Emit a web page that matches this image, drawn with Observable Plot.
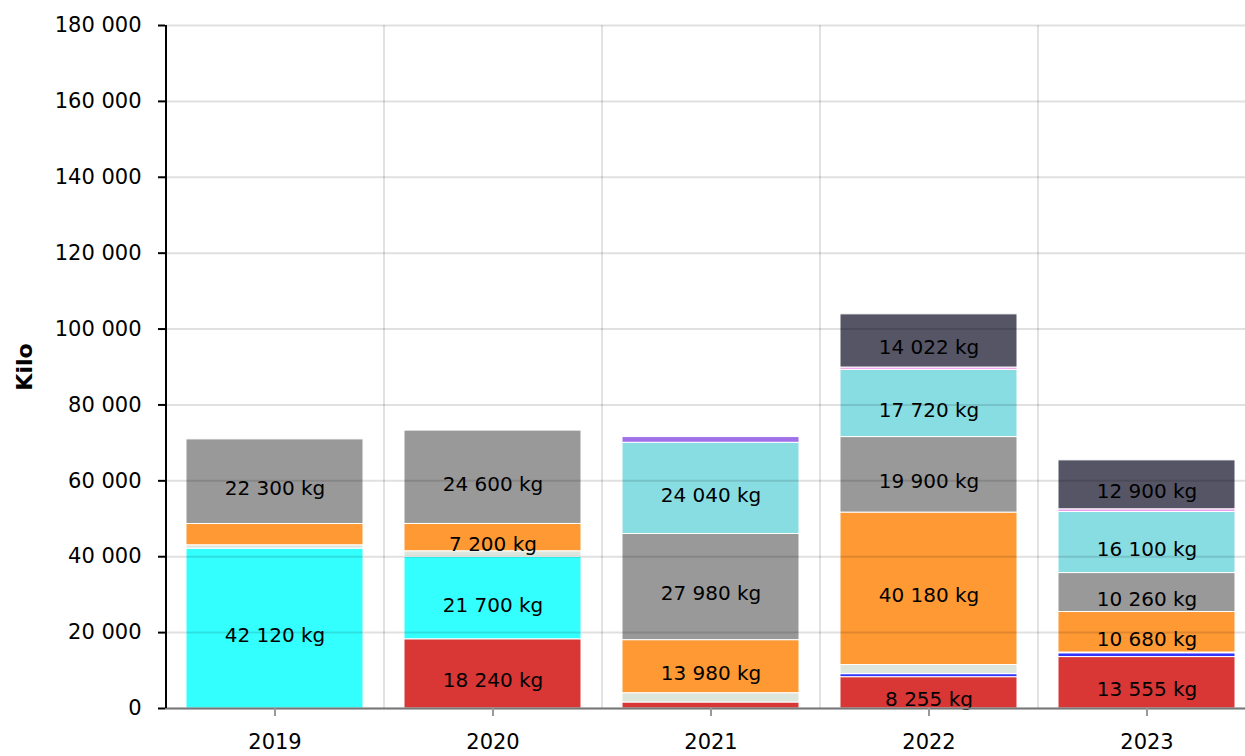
<!DOCTYPE html>
<html>
<head>
<meta charset="utf-8">
<script src="https://cdn.jsdelivr.net/npm/d3@7"></script>
<script src="https://cdn.jsdelivr.net/npm/@observablehq/plot@0.6"></script>
<style>
  html, body { margin: 0; padding: 0; background: #fff; overflow: hidden; }
  #chart svg { display: block; max-width: none !important; }
</style>
</head>
<body>
<div id="chart"></div>
<script>
// Categories
const years = ["2019", "2020", "2021", "2022", "2023"];
// Series (stack order bottom -> top)
const seriesNames = ["Rød", "Blå", "Turkis", "Lys", "Oransje", "Grå", "Lyseblå", "Lilla", "Rosa", "Mørk"];
const seriesColors = ["#d93636", "#3333ff", "#33ffff", "#dce6dc", "#ff9933", "#999999", "#88dde3", "#a070e8", "#ee99ee", "#555566"];
// Values in kg, per series, per year
const red       = [0, 18240, 1580, 8255, 13555];
const blue      = [0, 0, 0, 800, 1000];
const turquoise = [42120, 21700, 0, 0, 0];
const light     = [900, 1500, 2450, 2400, 200];
const orange    = [5600, 7200, 13980, 40180, 10680];
const gray      = [22300, 24600, 27980, 19900, 10260];
const lightBlue = [0, 0, 24040, 17720, 16100];
const purple    = [0, 0, 1500, 0, 0];
const pink      = [0, 0, 0, 600, 700];
const dark      = [0, 0, 0, 14022, 12900];
const yTicks = [0, 20000, 40000, 60000, 80000, 100000, 120000, 140000, 160000, 180000];
const yLabel = "Kilo";

const seriesValues = [red, blue, turquoise, light, orange, gray, lightBlue, purple, pink, dark];
const data = [];
years.forEach((yr, i) => {
  seriesNames.forEach((s, j) => {
    const v = seriesValues[j][i];
    if (v > 0) data.push({year: yr, series: s, value: v});
  });
});

const loc = d3.formatLocale({decimal: ",", thousands: " ", grouping: [3], currency: ["", ""]});
const fmt = loc.format(",d");

const W = 1255, H = 756, ML = 165, MR = 0, MT = 25, MB = 48;
const step = (W - ML - MR) / years.length;
const font = "DejaVu Sans, Verdana, sans-serif";

const chart = Plot.plot({
  width: W,
  height: H,
  marginLeft: ML,
  marginRight: MR,
  marginTop: MT,
  marginBottom: MB,
  style: {fontFamily: font, fontSize: "20px", color: "#000", background: "#fff"},
  x: {domain: years, paddingInner: 0.19, paddingOuter: 0.095, label: null},
  y: {domain: [0, 180000], label: null},
  color: {domain: seriesNames, range: seriesColors},
  marks: [
    // vertical band boundaries
    Plot.ruleX(years.slice(1), {x: d => d, dx: -step / 2, stroke: "#e2e2e2", strokeWidth: 2}),
    Plot.barY(data, {x: "year", y: "value", fill: "series", stroke: "white", strokeWidth: 1}),
    Plot.gridY(yTicks, {stroke: "#000", strokeOpacity: 0.12, strokeWidth: 2}),
    Plot.text(data, Plot.stackY({
      x: "year", y: "value",
      text: d => d.value >= 7000 ? fmt(d.value) + " kg" : "",
      fill: "#000", fontSize: 20, dy: 7
    })),
    Plot.ruleY([0], {stroke: "#777", strokeWidth: 2}),
    Plot.ruleX([years[0]], {x: d => d, dx: -step / 2, stroke: "#000", strokeWidth: 2}),
    Plot.axisY(yTicks, {tickSize: 7, tickPadding: 17, tickFormat: fmt, fontSize: 21, stroke: "#000", strokeWidth: 2}),
    Plot.axisX({tickSize: 8, tickPadding: 18, fontSize: 21, stroke: "#999", strokeWidth: 2}),
    Plot.text([yLabel], {frameAnchor: "left", dx: -141, rotate: -90, textAnchor: "middle", lineAnchor: "middle", fontWeight: "bold", fontSize: 22})
  ]
});

document.getElementById("chart").appendChild(chart);
</script>
</body>
</html>
